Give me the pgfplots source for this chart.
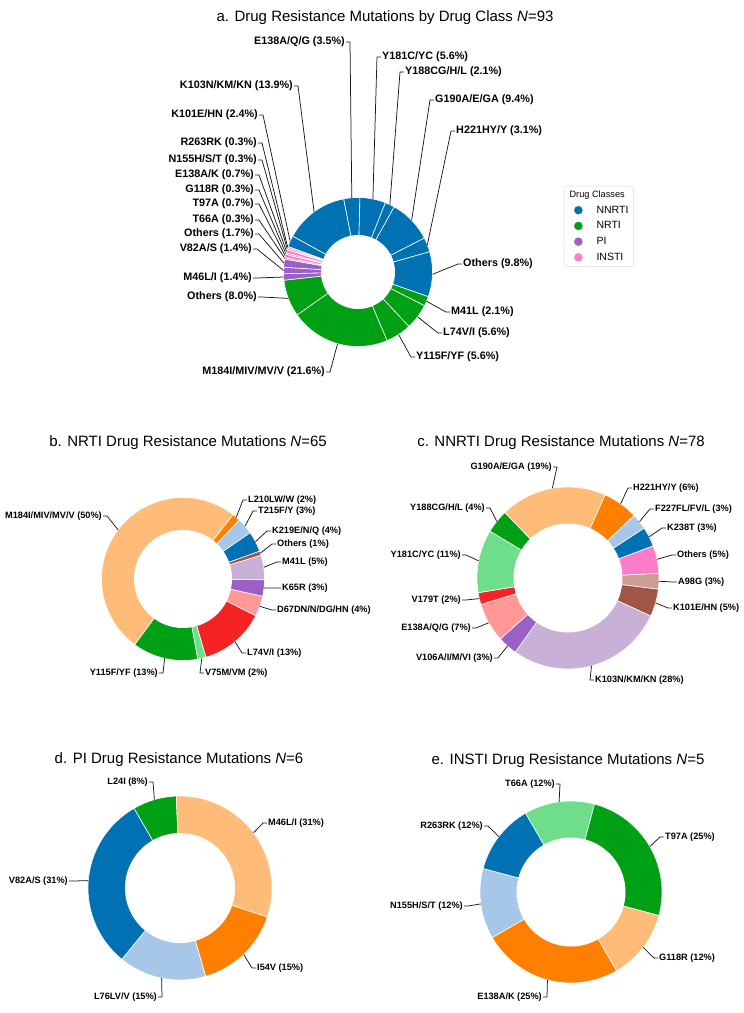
\documentclass[border=0pt]{standalone}
\usepackage{pgfplots}
\pgfplotsset{compat=1.18}
\usepackage{fontspec}
\setmainfont{Liberation Sans}

\definecolor{nnrti}{RGB}{0,114,180}
\definecolor{nrti}{RGB}{0,160,20}
\definecolor{piclr}{RGB}{155,95,200}
\definecolor{insti}{RGB}{255,125,200}
\definecolor{c0}{RGB}{0,114,180}
\definecolor{c1}{RGB}{166,199,232}
\definecolor{c2}{RGB}{255,127,0}
\definecolor{c3}{RGB}{255,187,120}
\definecolor{c4}{RGB}{0,160,20}
\definecolor{c5}{RGB}{110,222,138}
\definecolor{c6}{RGB}{245,35,35}
\definecolor{c7}{RGB}{255,152,150}
\definecolor{c8}{RGB}{155,95,200}
\definecolor{c9}{RGB}{200,176,214}
\definecolor{c10}{RGB}{160,85,70}
\definecolor{c11}{RGB}{206,156,148}
\definecolor{c12}{RGB}{255,125,200}

\tikzset{leader/.style={line width=0.75pt, black!90}}

% donut: centre x, centre y, radius, start angle (clockwise), total count, hole radius, label size
\newcommand\donut[7]{%
  \xdef\dcx{#1}\xdef\dcy{#2}\xdef\dR{#3}\xdef\dst{#4}%
  \xdef\dtot{#5}\xdef\dhole{#6}\xdef\lsz{#7}\xdef\cum{0}}
% slice: count, colour, label, label x, label y, side of label (L/R)
\newcommand\slice[6]{%
  \pgfmathsetmacro\aA{\dst-\cum/\dtot*360}%
  \pgfmathsetmacro\aB{\dst-(\cum+#1)/\dtot*360}%
  \pgfmathsetmacro\aM{(\aA+\aB)/2}%
  \pgfmathsetmacro\wx{\dcx+\dR*cos(\aM)}%
  \pgfmathsetmacro\wy{\dcy-\dR*sin(\aM)}%
  \if L#6%
    \pgfmathsetmacro\sx{#4+1}\pgfmathsetmacro\ex{#4+5}\def\anc{east}%
  \else
    \pgfmathsetmacro\sx{#4-1}\pgfmathsetmacro\ex{#4-5}\def\anc{west}%
  \fi
  \edef\doit{%
    \noexpand\addplot[fill=#2, draw=white, line width=0.6pt,
      domain=\aB:\aA, samples=50]
      ({\dcx+\dR*cos(x)}, {\dcy-\dR*sin(x)}) -- (axis cs:\dcx,\dcy) -- cycle;
    \noexpand\draw[leader] (axis cs:\sx,#5) -- (axis cs:\ex,#5) -- (axis cs:\wx,\wy);
    \noexpand\node[anchor=\anc, inner sep=0pt,
      font=\noexpand\fontsize{\lsz}{\lsz}\noexpand\selectfont\noexpand\bfseries]
      at (axis cs:#4,#5) {#3};}%
  \doit
  \pgfmathsetmacro\cumn{\cum+#1}\xdef\cum{\cumn}}
\newcommand\hole{%
  \edef\doit{\noexpand\addplot[fill=white, draw=none, domain=0:360, samples=120]
    ({\dcx+\dhole*cos(x)}, {\dcy-\dhole*sin(x)}) -- cycle;}\doit}
\newcommand\legdot[1]{\addlegendimage{legend image code/.code={%
  \fill[#1] (0pt,0pt) circle (4pt); \path (-11pt,0pt) (16pt,0pt);}}}

\begin{document}
\begin{tikzpicture}
\begin{axis}[
  scale only axis, width=744pt, height=1013pt,
  xmin=0, xmax=744, ymin=0, ymax=1013, y dir=reverse,
  hide axis, clip=false,
  legend style={at={(0.758,0.8164)}, anchor=north west, draw=black!15,
    rounded corners=2pt, font=\fontsize{10.5}{12}\selectfont,
    inner xsep=3pt, inner ysep=2.5pt, row sep=3pt, nodes={inner sep=2pt}},
  legend cell align=left,
]
\addlegendimage{empty legend}
\addlegendentry{\hspace{-27pt}\fontsize{9.2}{11}\selectfont Drug Classes}
\legdot{nnrti}\addlegendentry{NNRTI}
\legdot{nrti}\addlegendentry{NRTI}
\legdot{piclr}\addlegendentry{PI}
\legdot{insti}\addlegendentry{INSTI}

% a. all classes, counts out of 287
\donut{358}{272}{74.5}{160}{287}{37}{10.8}
\slice{7}{nnrti}{K101E/HN (2.4\%)}{258}{115}{L}
\slice{40}{nnrti}{K103N/KM/KN (13.9\%)}{293}{86}{L}
\slice{10}{nnrti}{E138A/Q/G (3.5\%)}{345}{42}{L}
\slice{16}{nnrti}{Y181C/YC (5.6\%)}{382}{57}{R}
\slice{6}{nnrti}{Y188CG/H/L (2.1\%)}{405}{72}{R}
\slice{27}{nnrti}{G190A/E/GA (9.4\%)}{435}{100}{R}
\slice{9}{nnrti}{H221HY/Y (3.1\%)}{456}{131}{R}
\slice{28}{nnrti}{Others (9.8\%)}{463}{264}{R}
\slice{6}{nrti}{M41L (2.1\%)}{451}{312}{R}
\slice{16}{nrti}{L74V/I (5.6\%)}{443}{333}{R}
\slice{16}{nrti}{Y115F/YF (5.6\%)}{416}{357}{R}
\slice{62}{nrti}{M184I/MIV/MV/V (21.6\%)}{325}{372}{L}
\slice{23}{nrti}{Others (8.0\%)}{257}{297}{L}
\slice{4}{piclr}{M46L/I (1.4\%)}{252}{278}{L}
\slice{4}{piclr}{V82A/S (1.4\%)}{252}{249}{L}
\slice{5}{piclr}{Others (1.7\%)}{254}{234}{L}
\slice{1}{insti}{T66A (0.3\%)}{254}{220}{L}
\slice{2}{insti}{T97A (0.7\%)}{254}{204}{L}
\slice{1}{insti}{G118R (0.3\%)}{254}{190}{L}
\slice{2}{insti}{E138A/K (0.7\%)}{254}{175}{L}
\slice{1}{insti}{N155H/S/T (0.3\%)}{257}{160}{L}
\slice{1}{insti}{R263RK (0.3\%)}{257}{143}{L}
\hole

% b. NRTI, counts out of 123
\donut{183}{579}{81.5}{17}{123}{49}{9.2}
\slice{6}{c9}{M41L (5\%)}{282}{562}{R}
\slice{4}{c8}{K65R (3\%)}{282}{588}{R}
\slice{5}{c7}{D67DN/N/DG/HN (4\%)}{277}{610}{R}
\slice{16}{c6}{L74V/I (13\%)}{247}{653}{R}
\slice{2}{c5}{V75M/VM (2\%)}{205}{673}{R}
\slice{16}{c4}{Y115F/YF (13\%)}{158}{673}{L}
\slice{62}{c3}{M184I/MIV/MV/V (50\%)}{102}{516}{L}
\slice{2}{c2}{L210LW/W (2\%)}{248}{500}{R}
\slice{4}{c1}{T215F/Y (3\%)}{258}{511}{R}
\slice{5}{c0}{K219E/N/Q (4\%)}{272}{531}{R}
\slice{1}{c10}{Others (1\%)}{277}{544}{R}
\hole

% c. NNRTI, counts out of 143
\donut{568}{578}{91}{3}{143}{54.5}{9.2}
\slice{4}{c11}{A98G (3\%)}{678}{582}{R}
\slice{7}{c10}{K101E/HN (5\%)}{673}{608}{R}
\slice{40}{c9}{K103N/KM/KN (28\%)}{595}{680}{R}
\slice{5}{c8}{V106A/I/M/VI (3\%)}{493}{658}{L}
\slice{10}{c7}{E138A/Q/G (7\%)}{471}{628}{L}
\slice{3}{c6}{V179T (2\%)}{461}{600}{L}
\slice{16}{c5}{Y181C/YC (11\%)}{461}{555}{L}
\slice{6}{c4}{Y188CG/H/L (4\%)}{485}{508}{L}
\slice{27}{c3}{G190A/E/GA (19\%)}{552}{467}{L}
\slice{9}{c2}{H221HY/Y (6\%)}{633}{488}{R}
\slice{4}{c1}{F227FL/FV/L (3\%)}{655}{509}{R}
\slice{5}{c0}{K238T (3\%)}{667}{528}{R}
\slice{7}{c12}{Others (5\%)}{677}{555}{R}
\hole

% d. PI, counts out of 13
\donut{180}{888}{92}{120}{13}{55}{9.2}
\slice{1}{c4}{L24I (8\%)}{148}{782}{L}
\slice{4}{c3}{M46L/I (31\%)}{268}{823}{R}
\slice{2}{c2}{I54V (15\%)}{257}{968}{R}
\slice{2}{c1}{L76LV/V (15\%)}{157}{997}{L}
\slice{4}{c0}{V82A/S (31\%)}{68}{881}{L}
\hole

% e. INSTI, counts out of 8
\donut{571}{892}{91}{120}{8}{54.5}{9.2}
\slice{1}{c5}{T66A (12\%)}{555}{784}{L}
\slice{2}{c4}{T97A (25\%)}{665}{837}{R}
\slice{1}{c3}{G118R (12\%)}{659}{958}{R}
\slice{2}{c2}{E138A/K (25\%)}{542}{997}{L}
\slice{1}{c1}{N155H/S/T (12\%)}{463}{906}{L}
\slice{1}{c0}{R263RK (12\%)}{483}{826}{L}
\hole

\node[font=\fontsize{15}{18}\selectfont] at (axis cs:385,18) {a. Drug Resistance Mutations by Drug Class \textit{N}=93};
\node[font=\fontsize{15}{18}\selectfont] at (axis cs:188,443) {b. NRTI Drug Resistance Mutations \textit{N}=65};
\node[font=\fontsize{15}{18}\selectfont] at (axis cs:561,443) {c. NNRTI Drug Resistance Mutations \textit{N}=78};
\node[font=\fontsize{15}{18}\selectfont] at (axis cs:179,760) {d. PI Drug Resistance Mutations \textit{N}=6};
\node[font=\fontsize{15}{18}\selectfont] at (axis cs:568,761) {e. INSTI Drug Resistance Mutations \textit{N}=5};
\end{axis}
\pgfresetboundingbox
\path[use as bounding box] (0,0) rectangle (744pt,1013pt);
\end{tikzpicture}
\end{document}
